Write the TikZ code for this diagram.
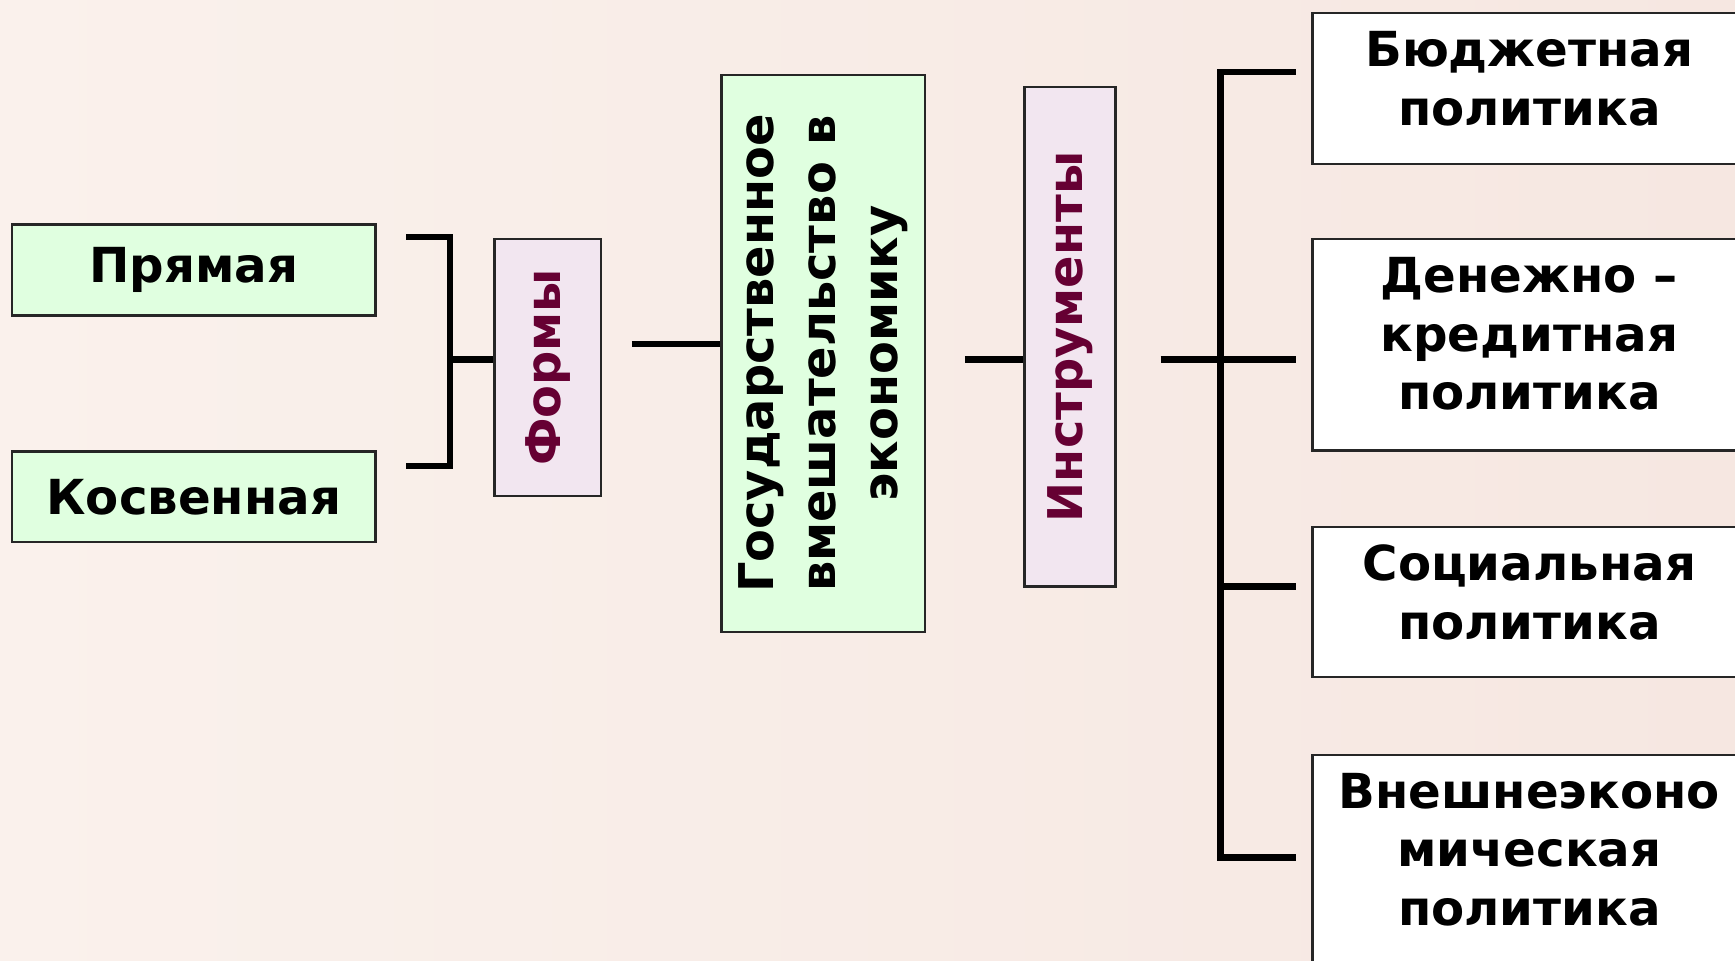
\documentclass[tikz,border=0pt]{standalone}
\usepackage{fontspec}
\setmainfont{DejaVu Sans}
\definecolor{bgleft}{RGB}{250,241,236}
\definecolor{bgright}{RGB}{246,231,225}
\definecolor{boxgreen}{RGB}{224,255,224}
\definecolor{boxpink}{RGB}{242,230,240}
\definecolor{maroon}{RGB}{102,0,51}
\newcommand\lbfont{\fontsize{12.4}{15}\selectfont\bfseries}
\newcommand\rotfont{\fontsize{12.3}{16}\selectfont\bfseries}
\tikzset{
  conn/.style={line width=1.6pt, black},
  framed/.style={draw=black!85, line width=0.6pt, inner sep=0pt},
  gbox/.style={framed, fill=boxgreen},
  pbox/.style={framed, fill=boxpink},
  wbox/.style={framed, fill=white},
  lbl/.style={font=\lbfont, align=center, text=black},
  rlbl/.style={font=\rotfont, align=center},
  toplbl/.style={font=\lbfont, align=center, text=black, inner sep=0pt, anchor=north, yshift=-0.17cm},
}
\begin{document}
\begin{tikzpicture}[x=0.01cm,y=-0.01cm]
\useasboundingbox (0,0) rectangle (1568,868);
\clip (0,0) rectangle (1568,868);
\shade[left color=bgleft, right color=bgright] (0,0) rectangle (1568,868);

% left boxes
\node[gbox, lbl, anchor=north west, minimum width=3.28cm, minimum height=0.82cm] (pr) at (10,202) {Прямая};
\node[gbox, lbl, anchor=north west, minimum width=3.28cm, minimum height=0.82cm] (ko) at (10,407) {Косвенная};

% vertical boxes
\node[pbox, rlbl, text=maroon, rotate=90, minimum width=2.32cm, minimum height=0.96cm] (fo) at (495,332) {Формы};
\node[gbox, rlbl, text=black, rotate=90, minimum width=5.03cm, minimum height=1.84cm] (gv) at (744,319.5) {Государственное\\вмешательство в\\экономику};
\node[pbox, rlbl, text=maroon, rotate=90, minimum width=4.51cm, minimum height=0.82cm] (in) at (967,304.5) {Инструменты};

% right boxes
\node[wbox, anchor=north west, minimum width=3.92cm, minimum height=1.36cm,
  label={[toplbl]90:Бюджетная\\политика}] (b1) at (1185,11) {};
\node[wbox, anchor=north west, minimum width=3.92cm, minimum height=1.91cm,
  label={[toplbl]90:Денежно –\\кредитная\\политика}] (b2) at (1185,215) {};
\node[wbox, anchor=north west, minimum width=3.92cm, minimum height=1.36cm,
  label={[toplbl]90:Социальная\\политика}] (b3) at (1185,475) {};
\node[wbox, anchor=north west, minimum width=3.92cm, minimum height=2.6cm,
  label={[toplbl]90:Внешнеэконо\\мическая\\политика}] (b4) at (1185,681) {};

% connector points
\coordinate (brT) at (367,214);
\coordinate (brB) at (367,421);
\coordinate (brX) at (407,325);
\coordinate (fr) at (571,311);
\coordinate (gr) at (872,325);
\coordinate (ir) at (1049,325);
\coordinate (t1) at (1103,65);
\coordinate (t3) at (1103,530);
\coordinate (t4) at (1103,775);
\coordinate (e1) at (1171,65);
\coordinate (e2) at (1171,325);
\coordinate (e3) at (1171,530);
\coordinate (e4) at (1171,775);

% bracket for forms
\draw[conn] (brT) -| (brX) |- (brB);
\draw[conn] (brX) -- (brX -| fo.north);
% forms -> central
\draw[conn] (fr) -- (fr -| gv.north);
% central -> instruments
\draw[conn] (gr) -- (gr -| in.north);
% instruments -> list
\draw[conn] (ir) -- (e2);
\draw[conn] (e1) -- (t1) -- (t4) -- (e4);
\draw[conn] (t3) -- (e3);
\end{tikzpicture}
\end{document}
